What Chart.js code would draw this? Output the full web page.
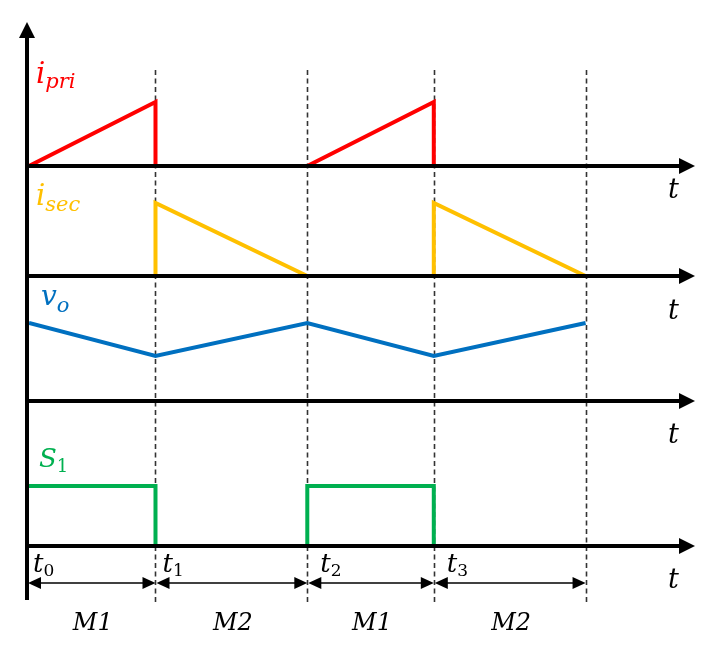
<!DOCTYPE html>
<html><head><meta charset="utf-8">
<script src="https://cdn.jsdelivr.net/npm/chart.js@4"></script>
<style>html,body{margin:0;padding:0;background:#fff;overflow:hidden}canvas{display:block}</style>
</head><body>
<canvas id="c" width="712" height="653"></canvas>
<script>
// ---- data ----
const edgeTimes = [0, 1, 2.2, 3.2, 4.4];            // t0, t1, t2, t3, t4 (M1 = 1, M2 = 1.2)
const edgeLabels = ['0', '1', '2', '3'];           // subscripts of t
const modeLabels = ['M1', 'M2', 'M1', 'M2'];
const panelBase = { ipri: 380, isec: 270, vo: 145, s1: 0 };

const ipriX = [0, 1, 1, 1.6, 2.2, 3.2, 3.2];
const ipriY = [0, 64, 0, null, 0, 64, 0];
const isecX = [1, 1, 2.2, 2.7, 3.2, 3.2, 4.4];
const isecY = [0, 73, 0, null, 0, 73, 0];
const voX = [0, 1, 2.2, 3.2, 4.4];
const voY = [78, 45, 78, 45, 78];
const s1X = [0, 1, 1, 1.6, 2.2, 2.2, 3.2, 3.2];
const s1Y = [60, 60, 0, null, 0, 60, 60, 0];

function pts(xs, ys, base) {
  return xs.map((x, i) => ({ x: x, y: ys[i] === null ? null : ys[i] + base }));
}
const FONT = '"DejaVu Serif", serif';

function sub(ctx, main, s, x, y, size, subSize, color, dy, mainItalic, subItalic) {
  ctx.fillStyle = color;
  ctx.font = (mainItalic ? 'italic ' : '') + size + 'px ' + FONT;
  ctx.textBaseline = 'alphabetic';
  ctx.textAlign = 'left';
  ctx.fillText(main, x, y);
  const w = ctx.measureText(main).width;
  ctx.font = (subItalic ? 'italic ' : '') + subSize + 'px ' + FONT;
  ctx.fillText(s, x + w, y + dy);
}

const decor = {
  id: 'decor',
  beforeDatasetsDraw(chart) {
    const { ctx, scales: { x, y } } = chart;
    ctx.save();
    ctx.strokeStyle = '#333333';
    ctx.lineWidth = 1.6;
    ctx.setLineDash([5, 3.5]);
    edgeTimes.slice(1).forEach(t => {
      const px = Math.round(x.getPixelForValue(t)) + 0.5;
      ctx.beginPath();
      ctx.moveTo(px, 70);
      ctx.lineTo(px, 603);
      ctx.stroke();
    });
    ctx.restore();
  },
  afterDatasetsDraw(chart) {
    const { ctx, chartArea: ca, scales: { x, y } } = chart;
    ctx.save();
    ctx.fillStyle = '#000';
    ctx.strokeStyle = '#000';
    ctx.lineWidth = 4;
    ctx.setLineDash([]);
    // vertical axis
    const ax = ca.left - 2;
    ctx.beginPath(); ctx.moveTo(ax, 600); ctx.lineTo(ax, 36); ctx.stroke();
    ctx.beginPath(); ctx.moveTo(ax, 22); ctx.lineTo(ax - 8, 38); ctx.lineTo(ax + 8, 38); ctx.closePath(); ctx.fill();
    // horizontal axes
    Object.values(panelBase).forEach(b => {
      const py = y.getPixelForValue(b);
      ctx.beginPath(); ctx.moveTo(ax, py); ctx.lineTo(ca.right - 12, py); ctx.stroke();
      ctx.beginPath(); ctx.moveTo(ca.right, py); ctx.lineTo(ca.right - 16, py - 8); ctx.lineTo(ca.right - 16, py + 8); ctx.closePath(); ctx.fill();
    });
    // t labels
    ctx.font = 'italic 27px ' + FONT;
    ctx.textAlign = 'left';
    ctx.textBaseline = 'alphabetic';
    [198, 319, 443, 588].forEach(by => ctx.fillText('t', 668, by));
    // double arrows
    const ay = 583;
    ctx.lineWidth = 1.5;
    for (let i = 0; i < edgeTimes.length - 1; i++) {
      const x0 = i === 0 ? ax + 1 : x.getPixelForValue(edgeTimes[i]) + 1, x1 = x.getPixelForValue(edgeTimes[i + 1]);
      ctx.beginPath(); ctx.moveTo(x0 + 8, ay); ctx.lineTo(x1 - 8, ay); ctx.stroke();
      ctx.beginPath(); ctx.moveTo(x0, ay); ctx.lineTo(x0 + 13, ay - 6); ctx.lineTo(x0 + 13, ay + 6); ctx.closePath(); ctx.fill();
      ctx.beginPath(); ctx.moveTo(x1, ay); ctx.lineTo(x1 - 13, ay - 6); ctx.lineTo(x1 - 13, ay + 6); ctx.closePath(); ctx.fill();
      // mode label
      ctx.font = 'italic 24px ' + FONT;
      ctx.textAlign = 'center';
      ctx.fillText(modeLabels[i], (x0 + x1) / 2 + 1, 630);
      ctx.textAlign = 'left';
    }
    // t_k labels
    const tOff = [4, 7, 13, 13];
    edgeLabels.forEach((s, i) => {
      const px = x.getPixelForValue(edgeTimes[i]) + tOff[i];
      sub(ctx, 't', s, px, 572, 26, 17, '#000', 4, true, false);
    });
    // series labels
    sub(ctx, 'i', 'pri', 36, 83, 29, 21, '#FF0000', 5, true, true);
    sub(ctx, 'i', 'sec', 36, 205, 29, 21, '#FFC000', 6, true, true);
    sub(ctx, 'v', 'o', 41, 305, 28, 21, '#0070C0', 7, true, true);
    sub(ctx, 'S', '1', 39, 467, 26, 18, '#00B050', 5, true, false);
    ctx.restore();
  }
};

const common = { fill: false, tension: 0, pointRadius: 0, borderWidth: 4, spanGaps: false, borderCapStyle: 'butt', borderJoinStyle: 'miter' };
new Chart(document.getElementById('c'), {
  type: 'line',
  data: {
    datasets: [
      Object.assign({ label: 'i_pri', data: pts(ipriX, ipriY, panelBase.ipri), borderColor: '#FF0000' }, common),
      Object.assign({ label: 'i_sec', data: pts(isecX, isecY, panelBase.isec), borderColor: '#FFC000' }, common),
      Object.assign({ label: 'v_o', data: pts(voX, voY, panelBase.vo), borderColor: '#0070C0' }, common),
      Object.assign({ label: 'S_1', data: pts(s1X, s1Y, panelBase.s1), borderColor: '#00B050' }, common)
    ]
  },
  options: {
    responsive: false,
    devicePixelRatio: 1,
    animation: false,
    layout: { padding: { left: 29, right: 17, top: 22, bottom: 107 } },
    plugins: { legend: { display: false }, tooltip: { enabled: false } },
    scales: {
      x: { type: 'linear', min: 0, max: 5.265, display: false },
      y: { type: 'linear', min: 0, max: 524, display: false }
    }
  },
  plugins: [decor]
});
</script>
</body></html>
